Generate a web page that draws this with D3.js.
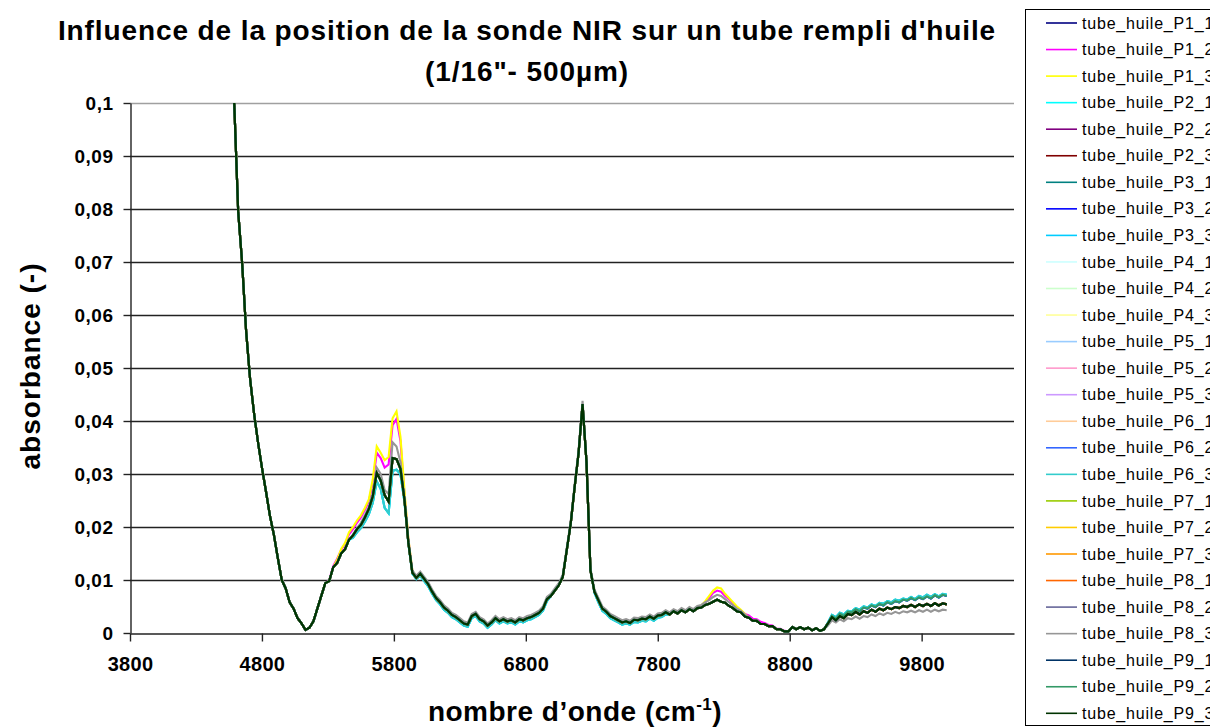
<!DOCTYPE html>
<html>
<head>
<meta charset="utf-8">
<script src="https://cdn.jsdelivr.net/npm/d3@7"></script>
<style>
  body { margin: 0; background: #fff; }
  svg { display: block; }
  text { font-family: "Liberation Sans", Arial, Helvetica, sans-serif; }
</style>
</head>
<body>
<svg id="chart" width="1210" height="728"></svg>
<script>
// NIR spectra of an oil-filled tube, probe at 9 positions x 3 repeats.
// Wavenumber grid (cm-1), sampled every 30 cm-1.
const waveNumbers = d3.range(4590, 10000, 30);

// Absorbance values in units of 1e-4.
const ABS_UNIT = 1e-4;

// Bulk of the repeats (they lie on top of each other).
const absCore = [
  1000, 795, 698, 570, 480, 415, 360, 312, 268, 222,
  186, 142, 100, 84, 58, 46, 28, 18, 6, 10,
  22, 46, 70, 94, 98, 124, 132, 150, 158, 176,
  184, 196, 204, 218, 234, 258, 302, 288, 260, 248,
  330, 328, 310, 252, 170, 114, 104, 112, 102, 92,
  78, 66, 58, 48, 42, 34, 30, 24, 18, 16,
  32, 36, 26, 22, 14, 20, 28, 22, 26, 22,
  24, 20, 26, 24, 28, 30, 34, 38, 46, 64,
  70, 80, 90, 106, 156, 206, 275, 340, 432, 322,
  118, 78, 62, 46, 40, 32, 28, 24, 20, 22,
  19, 25, 24, 27, 26, 31, 27, 33, 34, 39,
  35, 41, 37, 43, 39, 45, 41, 47, 48, 53,
  55, 59, 63, 59, 57, 51, 47, 41, 39, 31,
  29, 23, 23, 17, 17, 13, 13, 7, 7, 3,
  3, 11, 7, 11, 7, 10, 5, 9, 4, 7,
  18, 30, 24, 32, 28, 36, 34, 40, 35, 41,
  38, 44, 40, 46, 43, 48, 45, 49, 47, 51,
  49, 53, 49, 54, 51, 55, 51, 56, 52, 56,
  54
];

// Repeat with the strongest CH overtone bands.
const absHighYellow = [
  1000, 795, 698, 570, 480, 415, 360, 312, 268, 222,
  186, 142, 100, 84, 58, 46, 28, 18, 6, 10,
  22, 46, 70, 94, 98, 124, 138, 158, 170, 190,
  200, 212, 222, 236, 252, 290, 352, 340, 326, 332,
  405, 418, 370, 270, 178, 118, 104, 112, 102, 92,
  78, 66, 58, 48, 42, 34, 30, 24, 18, 16,
  32, 36, 26, 22, 14, 20, 28, 22, 26, 22,
  24, 20, 26, 24, 28, 30, 34, 38, 46, 64,
  70, 80, 90, 106, 156, 206, 275, 340, 432, 322,
  118, 78, 62, 46, 40, 32, 28, 24, 20, 22,
  19, 25, 24, 27, 26, 31, 27, 33, 34, 39,
  35, 41, 37, 43, 39, 45, 43, 49, 52, 60,
  70, 80, 86, 84, 74, 66, 58, 50, 44, 36,
  29, 23, 23, 17, 17, 13, 13, 7, 7, 3,
  3, 11, 7, 11, 7, 10, 5, 9, 4, 7,
  18, 30, 24, 32, 28, 36, 34, 40, 35, 41,
  38, 44, 40, 46, 43, 48, 45, 49, 47, 51,
  49, 53, 49, 54, 51, 55, 51, 56, 52, 56,
  54
];

const absHighMagenta = [
  1000, 795, 698, 570, 480, 415, 360, 312, 268, 222,
  186, 142, 100, 84, 58, 46, 28, 18, 6, 10,
  22, 46, 70, 94, 100, 126, 140, 156, 168, 186,
  196, 208, 218, 232, 248, 282, 340, 330, 312, 318,
  392, 404, 362, 262, 176, 116, 106, 112, 104, 94,
  78, 66, 58, 48, 42, 34, 30, 24, 18, 16,
  32, 36, 26, 22, 14, 20, 28, 22, 26, 22,
  24, 20, 26, 24, 28, 30, 34, 38, 46, 64,
  70, 80, 90, 106, 156, 206, 275, 340, 432, 322,
  118, 78, 62, 46, 40, 32, 28, 24, 20, 22,
  19, 25, 24, 27, 26, 31, 27, 33, 34, 39,
  35, 41, 37, 43, 39, 45, 43, 49, 50, 58,
  66, 76, 80, 78, 70, 64, 56, 48, 42, 36,
  33, 27, 26, 21, 19, 15, 14, 8, 8, 4,
  3, 11, 7, 11, 7, 10, 5, 9, 4, 7,
  18, 30, 24, 32, 28, 36, 34, 40, 35, 41,
  38, 44, 40, 46, 43, 48, 45, 49, 47, 51,
  49, 53, 49, 54, 51, 55, 51, 56, 52, 56,
  54
];

// Slightly raised baseline, lower at the high-wavenumber end.
const absGray = [
  1000, 795, 698, 570, 480, 415, 360, 312, 268, 222,
  186, 142, 100, 84, 58, 46, 28, 18, 6, 10,
  22, 46, 70, 94, 98, 124, 132, 150, 158, 176,
  186, 198, 208, 222, 238, 264, 312, 300, 270, 262,
  360, 352, 322, 256, 174, 118, 108, 116, 106, 96,
  82, 70, 62, 52, 46, 38, 34, 28, 22, 20,
  36, 40, 30, 26, 18, 24, 32, 26, 30, 26,
  28, 24, 30, 28, 32, 34, 38, 42, 50, 68,
  74, 84, 94, 110, 160, 210, 280, 345, 438, 326,
  122, 82, 66, 50, 44, 36, 32, 28, 24, 26,
  23, 29, 28, 31, 30, 35, 31, 37, 38, 43,
  39, 45, 41, 47, 43, 49, 45, 51, 53, 58,
  62, 68, 72, 70, 64, 58, 52, 46, 42, 35,
  29, 23, 23, 17, 17, 13, 13, 7, 7, 3,
  3, 11, 7, 11, 7, 10, 5, 9, 4, 7,
  14, 24, 20, 26, 22, 28, 26, 31, 27, 32,
  30, 35, 32, 37, 34, 38, 36, 40, 37, 41,
  39, 42, 39, 43, 40, 44, 40, 44, 41, 44,
  43
];

// Lower overtone bands, raised high-wavenumber end.
const absCyan = [
  1000, 795, 698, 570, 480, 415, 360, 312, 268, 222,
  186, 142, 100, 84, 58, 46, 28, 18, 6, 10,
  22, 46, 70, 94, 98, 124, 132, 150, 158, 176,
  180, 190, 198, 210, 224, 246, 286, 272, 236, 226,
  306, 308, 300, 248, 168, 112, 102, 108, 98, 88,
  74, 62, 54, 44, 38, 30, 26, 20, 14, 12,
  28, 32, 22, 18, 10, 16, 24, 18, 22, 18,
  20, 16, 22, 20, 24, 26, 30, 34, 42, 60,
  70, 80, 90, 106, 156, 206, 275, 340, 432, 322,
  118, 76, 58, 42, 36, 28, 24, 20, 16, 18,
  16, 21, 20, 23, 22, 27, 23, 29, 30, 35,
  35, 41, 37, 43, 39, 45, 41, 47, 48, 53,
  55, 59, 63, 59, 57, 51, 47, 41, 39, 31,
  29, 23, 23, 17, 17, 13, 13, 7, 7, 3,
  3, 11, 7, 11, 7, 10, 5, 9, 4, 7,
  20, 34, 30, 38, 35, 42, 41, 47, 44, 50,
  48, 54, 51, 57, 55, 60, 58, 63, 61, 65,
  63, 68, 64, 70, 67, 72, 68, 73, 69, 74,
  72
];

// Same as the bulk but with a higher high-wavenumber end.
const absTealTail = [
  1000, 795, 698, 570, 480, 415, 360, 312, 268, 222,
  186, 142, 100, 84, 58, 46, 28, 18, 6, 10,
  22, 46, 70, 94, 98, 124, 132, 150, 158, 176,
  184, 196, 204, 218, 234, 258, 302, 288, 260, 248,
  330, 328, 310, 252, 170, 114, 104, 112, 102, 92,
  78, 66, 58, 48, 42, 34, 30, 24, 18, 16,
  32, 36, 26, 22, 14, 20, 28, 22, 26, 22,
  24, 20, 26, 24, 28, 30, 34, 38, 46, 64,
  70, 80, 90, 106, 156, 206, 275, 340, 432, 322,
  118, 78, 62, 46, 40, 32, 28, 24, 20, 22,
  19, 25, 24, 27, 26, 31, 27, 33, 34, 39,
  35, 41, 37, 43, 39, 45, 41, 47, 48, 53,
  55, 59, 63, 59, 57, 51, 47, 41, 39, 31,
  29, 23, 23, 17, 17, 13, 13, 7, 7, 3,
  3, 11, 7, 11, 7, 10, 5, 9, 4, 7,
  18, 32, 27, 36, 32, 40, 39, 45, 41, 48,
  46, 52, 49, 55, 52, 58, 55, 60, 58, 63,
  61, 66, 62, 67, 64, 69, 65, 71, 67, 72,
  70
];

const seriesNames = [
  "tube_huile_P1_1", "tube_huile_P1_2", "tube_huile_P1_3",
  "tube_huile_P2_1", "tube_huile_P2_2", "tube_huile_P2_3",
  "tube_huile_P3_1", "tube_huile_P3_2", "tube_huile_P3_3",
  "tube_huile_P4_1", "tube_huile_P4_2", "tube_huile_P4_3",
  "tube_huile_P5_1", "tube_huile_P5_2", "tube_huile_P5_3",
  "tube_huile_P6_1", "tube_huile_P6_2", "tube_huile_P6_3",
  "tube_huile_P7_1", "tube_huile_P7_2", "tube_huile_P7_3",
  "tube_huile_P8_1", "tube_huile_P8_2", "tube_huile_P8_3",
  "tube_huile_P9_1", "tube_huile_P9_2", "tube_huile_P9_3"
];

const seriesColors = [
  "#000080", "#FF00FF", "#FFFF00",
  "#00FFFF", "#800080", "#800000",
  "#008080", "#0000FF", "#00CCFF",
  "#CCFFFF", "#CCFFCC", "#FFFF99",
  "#99CCFF", "#FF99CC", "#CC99FF",
  "#FFCC99", "#3366FF", "#33CCCC",
  "#99CC00", "#FFCC00", "#FF9900",
  "#FF6600", "#666699", "#969696",
  "#003366", "#339966", "#003300"
];

// Which measured spectrum each repeat uses.
const seriesValues = [
  absCore, absHighMagenta, absHighYellow,
  absCyan, absCore, absCore,
  absCore, absTealTail, absCyan,
  absCore, absCore, absCore,
  absCore, absCore, absCore,
  absCore, absTealTail, absCyan,
  absCore, absCore, absCore,
  absCore, absCore, absGray,
  absCore, absTealTail, absCore
];

const xTicks = [3800, 4800, 5800, 6800, 7800, 8800, 9800];
const yTicks = [0, 0.01, 0.02, 0.03, 0.04, 0.05, 0.06, 0.07, 0.08, 0.09, 0.1];

const svg = d3.select("#chart");
const plot = { left: 130, right: 1014, top: 103, bottom: 633 };

const x = d3.scaleLinear().domain([3800, 10500]).range([plot.left, plot.right]);
const y = d3.scaleLinear().domain([0, 0.1]).range([plot.bottom, plot.top]);

const fmtComma = d => d === 0 ? "0" : d3.format(".2~f")(d).replace(".", ",");

// Horizontal gridlines
svg.append("g")
  .selectAll("line")
  .data(yTicks.filter(d => d > 0))
  .join("line")
  .attr("x1", plot.left).attr("x2", plot.right)
  .attr("y1", d => Math.round(y(d)) + 0.5).attr("y2", d => Math.round(y(d)) + 0.5)
  .attr("stroke", d => d === 0.1 ? "#a0a0a0" : "#222")
  .attr("stroke-width", d => d === 0.1 ? 1.6 : 1.4);

// Spectra
svg.append("defs").append("clipPath").attr("id", "plotClip")
  .append("rect")
  .attr("x", plot.left).attr("y", plot.top)
  .attr("width", plot.right - plot.left).attr("height", plot.bottom - plot.top);

const line = d3.line()
  .x((d, i) => x(waveNumbers[i]))
  .y(d => y(d * ABS_UNIT));

svg.append("g")
  .attr("clip-path", "url(#plotClip)")
  .selectAll("path")
  .data(seriesValues)
  .join("path")
  .attr("fill", "none")
  .attr("stroke", (d, i) => seriesColors[i])
  .attr("stroke-width", 2.1)
  .attr("stroke-linejoin", "miter")
  .attr("d", line);

// Axes
const axisFont = '"Liberation Sans", Arial, sans-serif';

const xAxis = svg.append("g")
  .attr("transform", `translate(0,${plot.bottom + 0.5})`)
  .call(d3.axisBottom(x).tickValues(xTicks).tickFormat(d3.format("d")).tickSize(8).tickSizeOuter(0).tickPadding(15));
xAxis.select(".domain").attr("stroke", "#222").attr("stroke-width", 1.4);
xAxis.selectAll(".tick line").attr("stroke", "#222").attr("stroke-width", 1.4);
xAxis.selectAll(".tick text")
  .attr("font-size", 20).attr("font-weight", "bold").attr("letter-spacing", "0.3px")
  .attr("fill", "#000").attr("font-family", axisFont);

const yAxis = svg.append("g")
  .attr("transform", `translate(${plot.left + 0.5},0)`)
  .call(d3.axisLeft(y).tickValues(yTicks).tickFormat(fmtComma).tickSize(7).tickSizeOuter(0).tickPadding(10));
yAxis.select(".domain").attr("stroke", "#222").attr("stroke-width", 1.4);
yAxis.selectAll(".tick line").attr("stroke", "#222").attr("stroke-width", 1.4);
yAxis.selectAll(".tick text")
  .attr("font-size", 19).attr("font-weight", "bold").attr("letter-spacing", "0.5px")
  .attr("fill", "#000").attr("font-family", axisFont);

// Title
const title = svg.append("text")
  .attr("text-anchor", "middle")
  .attr("font-size", 28).attr("font-weight", "bold").attr("letter-spacing", "0.9px")
  .attr("fill", "#000");
title.append("tspan").attr("x", 527).attr("y", 40).text("Influence de la position de la sonde NIR sur un tube rempli d'huile");
title.append("tspan").attr("x", 527).attr("y", 81).text("(1/16\"- 500µm)");

// Axis titles
const xTitle = svg.append("text")
  .attr("x", 575).attr("y", 721)
  .attr("text-anchor", "middle")
  .attr("font-size", 28).attr("font-weight", "bold").attr("letter-spacing", "0.5px")
  .attr("fill", "#000");
xTitle.append("tspan").text("nombre d’onde (cm");
xTitle.append("tspan").attr("dy", -11).attr("font-size", 17).text("-1");
xTitle.append("tspan").attr("dy", 11).text(")");

svg.append("text")
  .attr("transform", "translate(40,366) rotate(-90)")
  .attr("text-anchor", "middle")
  .attr("font-size", 28).attr("font-weight", "bold").attr("letter-spacing", "1px")
  .attr("fill", "#000")
  .text("absorbance (-)");

// Legend
const legend = svg.append("g");
legend.append("rect")
  .attr("x", 1025.5).attr("y", 9.5)
  .attr("width", 200).attr("height", 716)
  .attr("fill", "#fff").attr("stroke", "#000").attr("stroke-width", 1);

const entryY = i => 23 + i * 26.55;
const entries = legend.selectAll("g.entry")
  .data(seriesNames)
  .join("g").attr("class", "entry");
entries.append("line")
  .attr("x1", 1046).attr("x2", 1077)
  .attr("y1", (d, i) => entryY(i)).attr("y2", (d, i) => entryY(i))
  .attr("stroke", (d, i) => seriesColors[i]).attr("stroke-width", 1.6);
entries.append("text")
  .attr("x", 1082).attr("y", (d, i) => entryY(i))
  .attr("dy", "0.35em")
  .attr("font-size", 16).attr("letter-spacing", "0.8px").attr("fill", "#000")
  .text(d => d);
</script>
</body>
</html>
